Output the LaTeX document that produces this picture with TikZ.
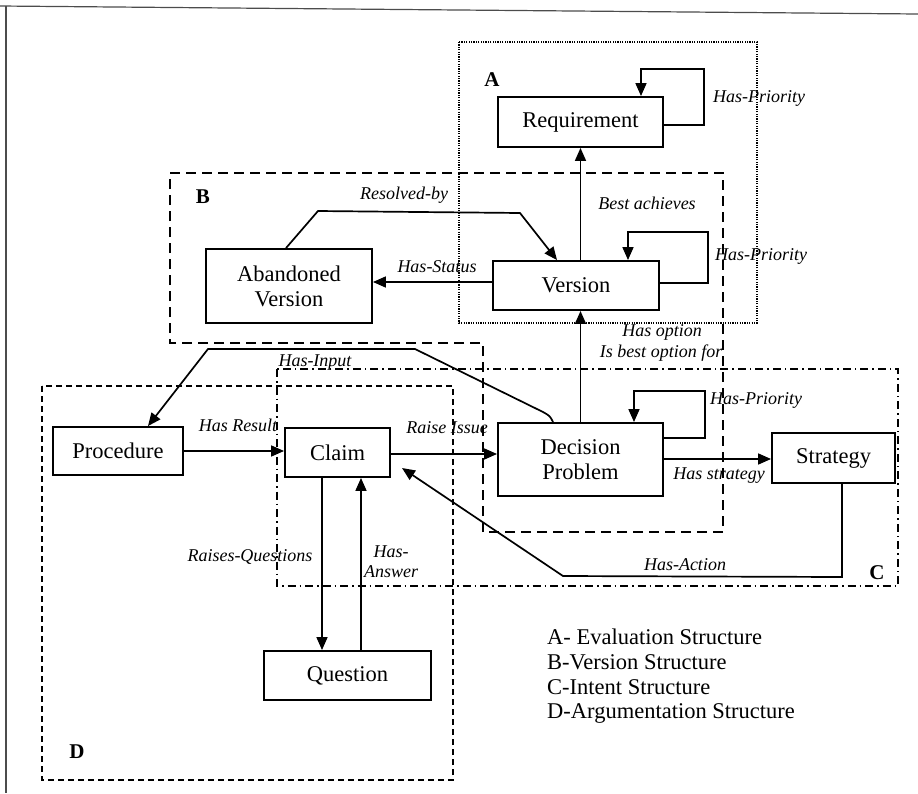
\documentclass[tikz,border=0pt]{standalone}
\usepackage{fontspec}
\setmainfont{Liberation Serif}
\usetikzlibrary{arrows.meta}
\begin{document}
\begin{tikzpicture}[x=1pt,y=-1pt,
  entity/.style={draw,line width=1.9pt,inner sep=0pt,align=center,
    font=\fontsize{22.5}{25}\selectfont},
  rel/.style={line width=1.7pt,-{Triangle[length=13pt,width=11pt]}},
  lbl/.style={inner sep=0pt,font=\fontsize{18}{20}\selectfont\itshape},
  grp/.style={inner sep=0pt,font=\fontsize{21}{21}\selectfont\bfseries},
  legend/.style={inner sep=0pt,anchor=west,font=\fontsize{22.5}{25}\selectfont},
  groupA/.style={line width=1.4pt,dash pattern=on 1.2pt off 1.2pt},
  groupB/.style={line width=1.8pt,dash pattern=on 10pt off 6pt},
  groupC/.style={line width=1.3pt,dash pattern=on 8pt off 4pt on 1.5pt off 4pt},
  groupD/.style={line width=1.5pt,dash pattern=on 6pt off 4pt}]
\useasboundingbox (0,0) rectangle (918,793);

% page frame
\draw[gray!60!black,line width=1.2pt] (0,6) -- (918,14);
\draw[gray!60!black,line width=1.2pt] (6,6) -- (6,793);

% structure regions
\draw[groupA] (459,42) rectangle (757,323);
\draw[groupB] (170,173) -- (723,173) -- (723,532) -- (483,532) -- (483,343) -- (170,343) -- cycle;
\draw[groupC] (277,369) rectangle (898,586);
\draw[groupD] (42,386) rectangle (453,780);

\node[grp] (lA) at (492,80) {A};
\node[grp] (lB) at (203,197) {B};
\node[grp] (lC) at (877,573) {C};
\node[grp] (lD) at (77,752) {D};

% entities
\node[entity,minimum width=165pt,minimum height=50pt] (req) at (580.5,122) {Requirement};
\node[entity,minimum width=166pt,minimum height=49pt] (ver) at (576,285.5) {Version};
\node[entity,minimum width=166pt,minimum height=74pt] (ab) at (289,286) {Abandoned\\Version};
\node[entity,minimum width=165pt,minimum height=73pt] (dp) at (580.5,459.5) {Decision\\Problem};
\node[entity,minimum width=123pt,minimum height=50pt] (strat) at (833.5,458) {Strategy};
\node[entity,minimum width=130pt,minimum height=48pt] (proc) at (118,451) {Procedure};
\node[entity,minimum width=105pt,minimum height=49pt] (claim) at (337.5,452.5) {Claim};
\node[entity,minimum width=167pt,minimum height=49pt] (q) at (347.5,675.5) {Question};

% relations
\draw[rel] (req.east |- 0,125) -- (704,125) -- (704,69) -- (641,69) -- (req.north -| 641,0);
\draw[rel] (ver.north -| req.south) -- (req.south);
\draw[rel] (ver.east |- 0,283) -- (708,283) -- (708,232) -- (628,232) -- (ver.north -| 628,0);
\draw[rel] (ab.north -| 286,0) -- (318,211) -- (520,213) -- (ver.north -| 557,0);
\draw[rel] (ver.west |- 0,282) -- (ab.east |- 0,282);
\draw[rel] (dp.north) -- (dp.north |- ver.south);
\draw[rel] (dp.east |- 0,438) -- (705,438) -- (705,391) -- (634,391) -- (dp.north -| 634,0);
\draw[rel] (dp.east |- 0,459) -- (strat.west |- 0,459);
\draw[rel] (dp.north -| 553,0) .. controls (550,416) .. (543,412) -- (415,349) -- (208,349) -- (proc.north -| 148,0);
\draw[rel] (proc.east) -- (claim.west |- proc.east);
\draw[rel] (claim.east |- 0,454) -- (dp.west |- 0,454);
\coordinate (actend) at (402,468);
\draw[rel] (strat.south -| 842,0) -- (842,577) -- (563,576) -- (actend);
\draw[rel] (claim.south -| 322,0) -- (q.north -| 322,0);
\draw[rel] (q.north -| 361,0) -- (claim.south -| 361,0);

% relation labels
\node[lbl] (t1) at (759,98) {Has-Priority};
\node[lbl] (t2) at (647,203) {Best achieves};
\node[lbl] (t3) at (404,195) {Resolved-by};
\node[lbl] (t4) at (437,267) {Has-Status};
\node[lbl] (t5) at (761,256) {Has-Priority};
\node[lbl] (t6) at (662,332) {Has option};
\node[lbl] (t7) at (661,353) {Is best option for};
\node[lbl] (t8) at (315,363) {Has-Input};
\node[lbl] (t9) at (238,425) {Has Result};
\node[lbl] (t10) at (447,428) {Raise Issue};
\node[lbl] (t11) at (756,400) {Has-Priority};
\node[lbl] (t12) at (719,476) {Has strategy};
\node[lbl] (t13) at (250,557) {Raises-Questions};
\node[lbl,align=center] (t14) at (391,562) {Has-\\Answer};
\node[lbl] (t15) at (685,565) {Has-Action};

% legend
\node[legend] (g1) at (547,637) {A- Evaluation Structure};
\node[legend] (g2) at (547,662) {B-Version Structure};
\node[legend] (g3) at (547,687) {C-Intent Structure};
\node[legend] (g4) at (547,713) {D-Argumentation Structure};
\end{tikzpicture}
\end{document}
